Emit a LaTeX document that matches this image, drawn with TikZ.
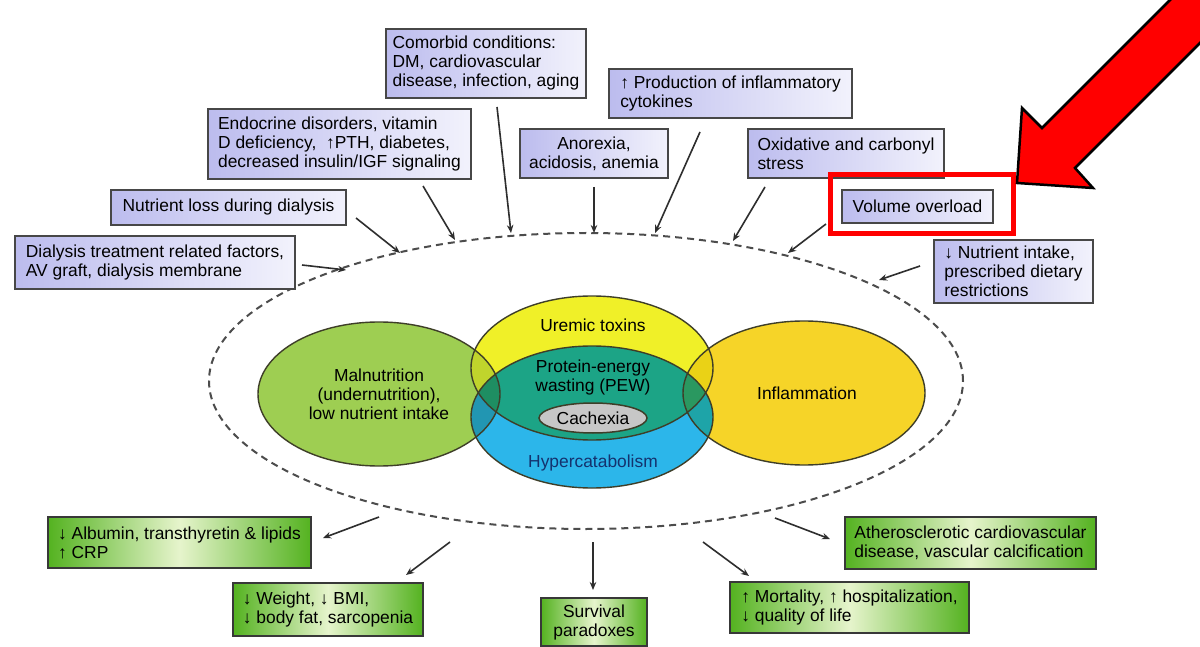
\documentclass[tikz,border=0pt]{standalone}
\usepackage{fontspec}
\setmainfont{Liberation Sans}
\usetikzlibrary{
		arrows.meta,
		calc,
		positioning
	}

\definecolor{lavender}{RGB}{188,188,238}
\definecolor{lavpale}{RGB}{242,242,252}
\definecolor{boxgreen}{RGB}{84,178,32}
\definecolor{boxpale}{RGB}{230,244,204}
\definecolor{malgreen}{RGB}{158,206,82}
\definecolor{uremyellow}{RGB}{240,240,40}
\definecolor{hyperblue}{RGB}{44,182,234}
\definecolor{pewteal}{RGB}{28,164,134}
\definecolor{inflgold}{RGB}{246,212,40}
\definecolor{malurem}{RGB}{192,212,44}
\definecolor{malpew}{RGB}{30,142,98}
\definecolor{malhyper}{RGB}{34,150,178}
\definecolor{influrem}{RGB}{234,210,22}
\definecolor{inflpew}{RGB}{42,152,96}
\definecolor{inflhyper}{RGB}{30,164,168}
\definecolor{setline}{RGB}{62,62,40}
\definecolor{hypertext}{RGB}{20,50,110}

\newcommand\diafont{\fontsize{17.4pt}{19pt}\selectfont}
\newcommand\pathmal{(379,394) ellipse [x radius=121pt, y radius=72pt]}
\newcommand\pathinfl{(804,393) ellipse [x radius=121pt, y radius=72pt]}
\newcommand\pathurem{(592,368) ellipse [x radius=121pt, y radius=72pt]}
\newcommand\pathhyper{(592,417) ellipse [x radius=121pt, y radius=71pt]}

\tikzset{
		>={Stealth[length=8pt,width=6.5pt]},
		cause/.style={draw=black!72, line width=1.6pt, left color=lavender, right color=lavpale,
			align=left, inner sep=0pt, font=\diafont},
		effect/.style={draw=black!78, line width=1.6pt, left color=boxgreen, right color=boxgreen,
			middle color=boxpale, align=left, inner sep=0pt, font=\diafont},
		flow/.style={->, line width=1.6pt, draw=black!82},
		vennset/.style={draw=setline, line width=1.4pt},
		venntext/.style={font=\diafont, align=center}
	}

\begin{document}
\begin{tikzpicture}[x=1pt, y=-1pt]
              \clip (0,0) rectangle (1200,647);
              \fill[white] (0,0) rectangle (1200,647);

              % the dashed region round the sets
              \draw[black!70, line width=2pt, dash pattern=on 7pt off 5pt]
                (586,381) ellipse [x radius=377pt, y radius=148pt];

              % draw the sets
              \fill[malgreen] \pathmal;
              \fill[inflgold] \pathinfl;
              \fill[uremyellow] \pathurem;
              \fill[hyperblue] \pathhyper;
              \begin{scope}
                \clip \pathurem;
                \fill[pewteal] \pathhyper;
              \end{scope}
              % the overlaps with the two side sets
              \begin{scope}
                \clip \pathmal;
                \fill[malurem] \pathurem;
                \fill[malhyper] \pathhyper;
                \clip \pathurem;
                \fill[malpew] \pathhyper;
              \end{scope}
              \begin{scope}
                \clip \pathinfl;
                \fill[influrem] \pathurem;
                \fill[inflhyper] \pathhyper;
                \clip \pathurem;
                \fill[inflpew] \pathhyper;
              \end{scope}
              \draw[vennset] \pathmal;
              \draw[vennset] \pathinfl;
              \draw[vennset] \pathurem;
              \draw[vennset] \pathhyper;
              \filldraw[fill=black!22, draw=setline, line width=1.5pt]
                (593,418) ellipse [x radius=54pt, y radius=15pt];

              % the texts in the sets
              \node[venntext] (maltext) at (379,394) {Malnutrition\\(undernutrition),\\low nutrient intake};
              \node[venntext] (uremtext) at (593,325) {Uremic toxins};
              \node[venntext] (pewtext) at (593,378) {Protein-energy\\wasting (PEW)};
              \node[venntext] (cachtext) at (593,418) {Cachexia};
              \node[venntext, text=hypertext] (hypertext) at (593,463) {Hypercatabolism};
              \node[venntext] (infltext) at (807,393) {Inflammation};

              % the causes
              \node[cause, minimum width=200, minimum height=69] (como) at (486,63.5)
                {Comorbid conditions:\\DM, cardiovascular\\disease, infection, aging};
              \node[cause, minimum width=263, minimum height=70] (endo) at (339.5,144)
                {Endocrine disorders, vitamin\\D deficiency,\ \ ↑PTH, diabetes,\\decreased insulin/IGF signaling};
              \node[cause, minimum width=235, minimum height=35] (loss) at (228.5,207.5)
                {Nutrient loss during dialysis};
              \node[cause, minimum width=280, minimum height=53] (dial) at (155,262.5)
                {Dialysis treatment related factors,\\AV graft, dialysis membrane};
              \node[cause, align=center, minimum width=148, minimum height=49] (anor) at (594,153.5)
                {Anorexia,\\acidosis, anemia};
              \node[cause, minimum width=243, minimum height=49] (prod) at (730.5,93.5)
                {↑ Production of inflammatory\\cytokines};
              \node[cause, minimum width=196, minimum height=49] (oxid) at (846,153.5)
                {Oxidative and carbonyl\\stress};
              \node[cause, minimum width=151, minimum height=33] (vol) at (917.5,206.5)
                {Volume overload};
              \node[cause, minimum width=159, minimum height=63] (nint) at (1013.5,271.5)
                {↓ Nutrient intake,\\prescribed dietary\\restrictions};

              % the consequences
              \node[effect, minimum width=263, minimum height=51] (alb) at (179.5,542.5)
                {↓ Albumin, transthyretin \& lipids\\↑ CRP};
              \node[effect, minimum width=190, minimum height=53] (wgt) at (328,609.5)
                {↓ Weight, ↓ BMI,\\↓ body fat, sarcopenia};
              \node[effect, align=center, minimum width=106, minimum height=48] (surv) at (594,622)
                {Survival\\paradoxes};
              \node[effect, minimum width=239, minimum height=51] (mort) at (849.5,607.5)
                {↑ Mortality, ↑ hospitalization,\\↓ quality of life};
              \node[effect, minimum width=251, minimum height=52] (ath) at (970.5,543)
                {Atherosclerotic cardiovascular\\disease, vascular calcification};

              % where the arrows start and end
              \coordinate (dial-a) at (302,265);  \coordinate (dial-b) at (346,270);
              \coordinate (loss-a) at (356,218);  \coordinate (loss-b) at (400,253);
              \coordinate (endo-a) at (423,186);  \coordinate (endo-b) at (455,240);
              \coordinate (como-a) at (497,107);  \coordinate (como-b) at (511,233);
              \coordinate (anor-a) at (594,187);  \coordinate (anor-b) at (594,233);
              \coordinate (prod-a) at (700,132);  \coordinate (prod-b) at (655,233);
              \coordinate (oxid-a) at (765,187);  \coordinate (oxid-b) at (733,241);
              \coordinate (vol-a) at (826,224);   \coordinate (vol-b) at (788,253);
              \coordinate (nint-a) at (920,266);  \coordinate (nint-b) at (879,280);
              \coordinate (alb-a) at (379,517);   \coordinate (alb-b) at (323,538);
              \coordinate (wgt-a) at (450,542);   \coordinate (wgt-b) at (406,575);
              \coordinate (surv-a) at (593,542);  \coordinate (surv-b) at (593,590);
              \coordinate (mort-a) at (703,542);  \coordinate (mort-b) at (749,576);
              \coordinate (ath-a) at (775,518);   \coordinate (ath-b) at (830,539);

              % draw the arrows
              \draw[flow] (dial-a) -- (dial-b);
              \draw[flow] (loss-a) -- (loss-b);
              \draw[flow] (endo-a) -- (endo-b);
              \draw[flow] (como-a) -- (como-b);
              \draw[flow] (anor-a) -- (anor-b);
              \draw[flow] (prod-a) -- (prod-b);
              \draw[flow] (oxid-a) -- (oxid-b);
              \draw[flow] (vol-a) -- (vol-b);
              \draw[flow] (nint-a) -- (nint-b);
              \draw[flow] (alb-a) -- (alb-b);
              \draw[flow] (wgt-a) -- (wgt-b);
              \draw[flow] (surv-a) -- (surv-b);
              \draw[flow] (mort-a) -- (mort-b);
              \draw[flow] (ath-a) -- (ath-b);

              % the red mark on the volume overload
              \draw[red, line width=5pt] (830.5,174.5) rectangle (1013.5,233.5);
              \filldraw[fill=red, draw=black, line width=2.5pt]
                (1017,183) -- (1022,108) -- (1042,128) -- (1242,-72) -- (1278.5,-35.5)
                -- (1075,168) -- (1093,188) -- cycle;

          \end{tikzpicture}
\end{document}
